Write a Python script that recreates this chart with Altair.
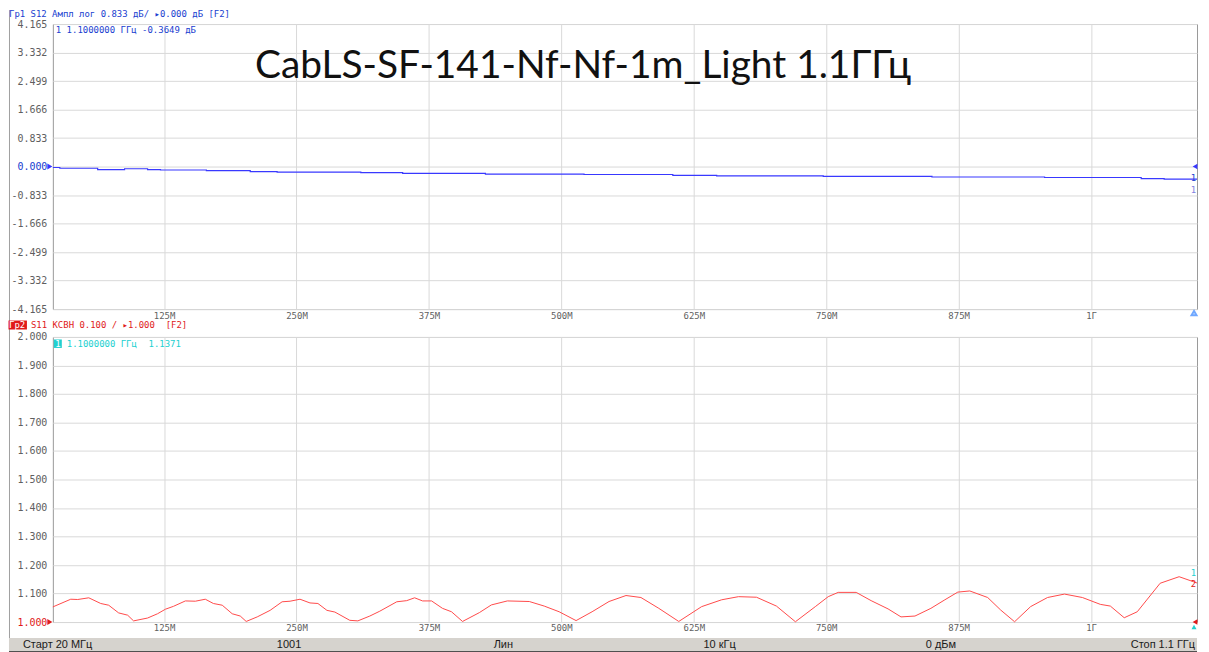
import altair as alt
import pandas as pd

# ---------------- data ----------------
s12_freq_mhz = [20.0, 26.6, 62.3, 87.7, 109.4, 121.6, 164.9, 206.3, 231.7, 310.7, 350.2,
                428.3, 521.4, 605.2, 646.6, 747.2, 849.8, 956.1, 1047.3, 1069.0, 1100.0]
s12_db = [-0.027, -0.05, -0.09, -0.064, -0.09, -0.10, -0.12, -0.146, -0.16, -0.18, -0.20,
          -0.22, -0.232, -0.255, -0.27, -0.287, -0.305, -0.32, -0.355, -0.365, -0.365]

s11_freq_mhz = [20.0, 36.9, 43.5, 53.9, 65.2, 72.7, 82.1, 90.6, 96.2, 109.4,
                118.8, 126.3, 133.8, 145.1, 154.5, 163.9, 171.5, 179.9, 189.3, 196.9,
                202.5, 212.9, 225.1, 236.4, 243.9, 253.3, 262.7, 270.2, 278.7, 286.2,
                300.3, 307.9, 319.2, 328.6, 344.6, 354.0, 361.5, 369.0, 377.5, 387.8,
                396.3, 406.7, 422.6, 433.9, 449.0, 469.7, 483.8, 497.9, 513.9, 529.0,
                545.0, 561.0, 575.1, 592.0, 610.8, 632.4, 651.3, 667.2, 684.2, 703.0,
                720.9, 739.7, 751.9, 761.3, 778.3, 792.4, 808.4, 820.6, 833.8, 848.8,
                862.0, 874.2, 885.5, 902.4, 914.7, 927.8, 942.9, 958.9, 974.9, 991.8,
                1008.7, 1018.2, 1031.3, 1043.6, 1065.2, 1083.1, 1100.0]
s11_vswr = [1.053, 1.080, 1.079, 1.085, 1.065, 1.059, 1.032, 1.024, 1.004, 1.014,
            1.029, 1.045, 1.055, 1.074, 1.073, 1.080, 1.065, 1.059, 1.029, 1.021,
            1.002, 1.018, 1.041, 1.071, 1.073, 1.080, 1.067, 1.065, 1.041, 1.035,
            1.006, 1.004, 1.021, 1.038, 1.071, 1.075, 1.085, 1.074, 1.074, 1.048,
            1.036, 1.002, 1.033, 1.060, 1.074, 1.072, 1.056, 1.036, 1.005, 1.036,
            1.072, 1.093, 1.086, 1.048, 1.002, 1.054, 1.078, 1.089, 1.087, 1.056,
            1.001, 1.054, 1.089, 1.104, 1.104, 1.075, 1.046, 1.018, 1.021, 1.048,
            1.078, 1.105, 1.109, 1.086, 1.042, 1.001, 1.054, 1.086, 1.098, 1.086,
            1.062, 1.056, 1.015, 1.036, 1.136, 1.159, 1.137]

x_tick_values = [125, 250, 375, 500, 625, 750, 875, 1000]
x_tick_labels = ["125M", "250M", "375M", "500M", "625M", "750M", "875M", "1Г"]
top_y_ticks = [4.165, 3.332, 2.499, 1.666, 0.833, 0.0, -0.833, -1.666, -2.499, -3.332, -4.165]
bottom_y_ticks = [1.0, 1.1, 1.2, 1.3, 1.4, 1.5, 1.6, 1.7, 1.8, 1.9, 2.0]

title_text = "CabLS-SF-141-Nf-Nf-1m_Light 1.1ГГц"
top_header = "Гр1 S12 Ампл лог 0.833 дБ/ ▸0.000 дБ [F2]"
top_marker = "1 1.1000000 ГГц -0.3649 дБ"
bottom_header_tag = "Гр2"
bottom_header = "S11 КСВН 0.100 / ▸1.000 \u00a0[F2]"
bottom_marker_freq = "1.1000000 ГГц"
bottom_marker_val = "1.1371"
status_labels = ["Старт 20 МГц", "1001", "Лин", "10 кГц", "0 дБм", "Стоп 1.1 ГГц"]

# ---------------- style ----------------
W, H = 1148, 286
MONO = "DejaVu Sans Mono"
GRID = "#d9d9d9"
LGREY = "#5f5f5f"
BLUE = "#3838ff"
TBLUE = "#2040d0"
RED = "#ff4a4a"
HRED = "#e01a1a"
CYAN = "#22d0d0"

x_label_expr = ("[" + ",".join("'%s'" % s for s in x_tick_labels) + "][indexof(["
                + ",".join(str(v) for v in x_tick_values) + "], datum.value)]")
y_label_expr = "replace(format(datum.value, '.3f'), '\u2212', '-')"


def x_enc():
    return alt.X("freq:Q", scale=alt.Scale(domain=[20, 1100], nice=False, zero=False),
                 axis=alt.Axis(values=x_tick_values, labelExpr=x_label_expr, title=None,
                               ticks=False, domain=False, grid=True, gridColor=GRID,
                               labelFont=MONO, labelFontSize=9, labelColor=LGREY,
                               labelPadding=2, labelFlush=False, labelOverlap=False))


def y_enc(field, domain, ticks, hl, hl_color):
    return alt.Y(field, scale=alt.Scale(domain=domain, nice=False, zero=False),
                 axis=alt.Axis(values=ticks, labelExpr=y_label_expr, title=None,
                               ticks=False, domain=False, grid=True, gridColor=GRID,
                               labelFont=MONO, labelFontSize=10, labelPadding=6,
                               labelFlush=False, labelOverlap=False,
                               labelColor={"condition": {"test": "abs(datum.value - %s) < 0.0001" % hl,
                                                         "value": hl_color},
                                           "value": LGREY}))


def txt(s, x, y, color, size=9, font=MONO, align="left", baseline="middle"):
    return alt.Chart(pd.DataFrame({"t": [s]})).mark_text(
        align=align, baseline=baseline, font=font, fontSize=size, color=color
    ).encode(text="t:N", x=alt.value(x), y=alt.value(y))


def box(x, x2, y, y2, color):
    return alt.Chart(pd.DataFrame({"t": [0]})).mark_rect(color=color).encode(
        x=alt.value(x), x2=alt.value(x2), y=alt.value(y), y2=alt.value(y2))


# ---------------- top panel (S12) ----------------
top_df = pd.DataFrame({"freq": s12_freq_mhz, "db": s12_db})
ytop = lambda: y_enc("db:Q", [-4.165, 4.165], top_y_ticks, 0, TBLUE)

top_line = alt.Chart(top_df).mark_line(interpolate="step-after", color=BLUE, strokeWidth=1.2).encode(
    x=x_enc(), y=ytop())

ref_df = pd.DataFrame({"freq": [20.0], "db": [0.0]})
ref_left = alt.Chart(ref_df).mark_point(shape="triangle-right", filled=True, size=35, color=BLUE,
                                        opacity=1, xOffset=-3).encode(x=x_enc(), y=ytop())
ref_right_df = pd.DataFrame({"freq": [1100.0], "db": [0.0]})
ref_right = alt.Chart(ref_right_df).mark_point(shape="triangle-left", filled=True, size=30, color=BLUE,
                                               opacity=1, xOffset=-2).encode(x=x_enc(), y=ytop())
end_df = pd.DataFrame({"freq": [1100.0], "db": [s12_db[-1]], "t": ["1"]})
end_lab1 = alt.Chart(end_df).mark_text(color=TBLUE, font=MONO, fontSize=9, align="right", dx=-1, dy=-1).encode(
    x=x_enc(), y=ytop(), text="t:N")
end_lab2 = alt.Chart(end_df).mark_text(color="#8080e0", font=MONO, fontSize=9, align="right", dx=-1, dy=11).encode(
    x=x_enc(), y=ytop(), text="t:N")
stim_df = pd.DataFrame({"freq": [1100.0], "db": [-4.165]})
stim = alt.Chart(stim_df).mark_point(shape="triangle-up", filled=False, size=25, color="#70a8ff",
                                     opacity=1, xOffset=-3, yOffset=4).encode(x=x_enc(), y=ytop())

frame = alt.Chart(pd.DataFrame({"t": [0]})).mark_rule(color="#a0a0a0", strokeWidth=1).encode(
    x=alt.value(-43.5), y=alt.value(-14), y2=alt.value(630))

top = alt.layer(
    frame,
    top_line,
    ref_left, ref_right, stim, end_lab1, end_lab2,
    txt(top_header, -44, -14, TBLUE, baseline="top"),
    txt(top_marker, 3, 6, TBLUE),
    txt(title_text, 532, 54, "#111111", size=39, font="Lato", align="center", baseline="alphabetic"),
).properties(width=W, height=H)

# ---------------- bottom panel (S11 VSWR) ----------------
bot_df = pd.DataFrame({"freq": s11_freq_mhz, "vswr": s11_vswr})
ybot = lambda: y_enc("vswr:Q", [1.0, 2.0], bottom_y_ticks, 1, HRED)

bot_line = alt.Chart(bot_df).mark_line(color=RED, strokeWidth=1).encode(x=x_enc(), y=ybot())

bref_l = alt.Chart(pd.DataFrame({"freq": [20.0], "vswr": [1.0]})).mark_point(
    shape="triangle-right", filled=True, size=35, color=HRED, opacity=1, xOffset=-3).encode(x=x_enc(), y=ybot())
bref_r = alt.Chart(pd.DataFrame({"freq": [1100.0], "vswr": [1.0]})).mark_point(
    shape="triangle-left", filled=True, size=30, color=HRED, opacity=1, xOffset=-2).encode(x=x_enc(), y=ybot())
bstim = alt.Chart(pd.DataFrame({"freq": [1100.0], "vswr": [1.0]})).mark_point(
    shape="triangle-up", filled=True, size=25, color=CYAN, opacity=1, xOffset=-3, yOffset=5).encode(x=x_enc(), y=ybot())
bend = pd.DataFrame({"freq": [1100.0], "vswr": [s11_vswr[-1]], "a": ["1"], "b": ["2"]})
bend1 = alt.Chart(bend).mark_text(color=CYAN, font=MONO, fontSize=9, align="right", dx=-1, dy=-10).encode(
    x=x_enc(), y=ybot(), text="a:N")
bend2 = alt.Chart(bend).mark_text(color=HRED, font=MONO, fontSize=9, align="right", dx=-1, dy=1).encode(
    x=x_enc(), y=ybot(), text="b:N")

status_x = [-30, 237, 452, 669, 891, 1146]
status_align = ["left", "center", "center", "center", "center", "right"]
status_layers = [txt(s, x, 309, "#1a1a1a", size=11, font="Liberation Sans", align=a)
                 for s, x, a in zip(status_labels, status_x, status_align)]

bottom = alt.layer(
    bot_line,
    bref_l, bref_r, bstim, bend1, bend2,
    box(-44.5, -26, -16.5, -7.5, HRED),
    txt(bottom_header_tag, -44, -12, "white"),
    txt(bottom_header, -22, -12, HRED),
    box(1, 9, 2.5, 11, CYAN),
    txt("1", 5, 7, "white", align="center"),
    txt(bottom_marker_freq, 14, 7, CYAN),
    txt(bottom_marker_val, 96, 7, CYAN),
    box(-44, 1148, 302, 315, "#d6d3ce"),
    box(-44, 1148, 315, 317, "#505050"),
    *status_layers,
).properties(width=W, height=H)

chart = alt.vconcat(top, bottom, spacing=28, bounds="flush").properties(
    padding=0
).configure_view(stroke="#9a9a9a", strokeWidth=1)

chart.save("out.html", embed_options={"renderer": "svg", "actions": False})
